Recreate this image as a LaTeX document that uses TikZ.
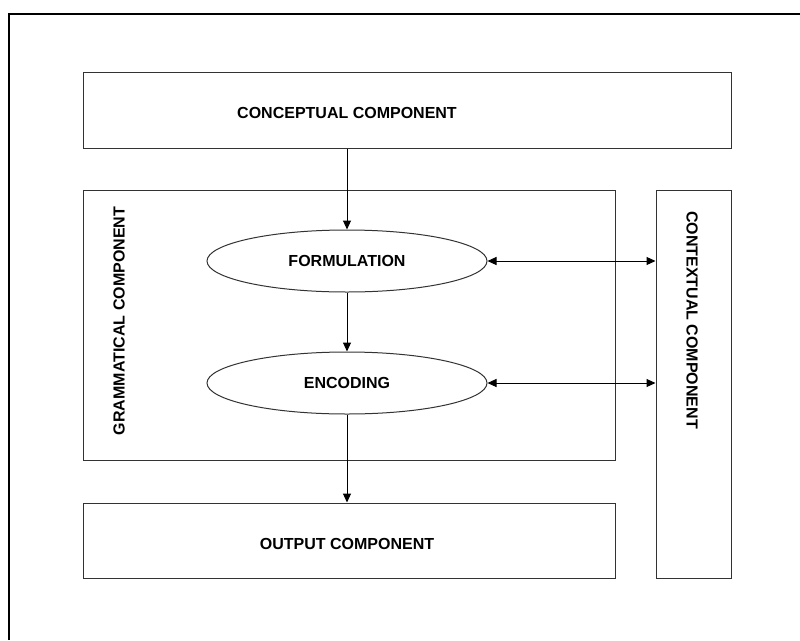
\documentclass[tikz,border=0pt]{standalone}
\usepackage{fontspec}
\setmainfont{Liberation Sans}
\usetikzlibrary{shapes.geometric,arrows.meta}

\tikzstyle{bS}=[draw=black!80,line width=1pt,inner sep=0pt]
\tikzstyle{tS}=[inner sep=0pt,font=\bfseries\fontsize{16}{19}\selectfont]
\tikzstyle{oS}=[ellipse,draw=black!80,line width=1pt,minimum width=280pt,minimum height=62pt,inner sep=0pt,font=\bfseries\fontsize{16}{19}\selectfont]
\tikzstyle{aS}=[line width=1pt,-{Triangle[length=9pt,width=8pt]}]
\tikzstyle{dS}=[line width=1pt,{Triangle[length=9pt,width=8pt]}-{Triangle[length=9pt,width=8pt]}]

\begin{document}
\begin{tikzpicture}[x=1pt,y=-1pt]
                \useasboundingbox (0,0) rectangle (800,640);
                \draw[line width=2.5pt] (9,640) -- (9,14) -- (800,14);
                % boxes
                \draw (407,110) node[bS,minimum width=648pt,minimum height=76pt] (cB) {};
                \draw (349,325) node[bS,minimum width=532pt,minimum height=270pt] (gB) {};
                \draw (693.5,384) node[bS,minimum width=75pt,minimum height=388pt] (xB) {};
                \draw (349,540.5) node[bS,minimum width=532pt,minimum height=75pt] (oB) {};
                % texts
                \draw (347,112.5) node[tS] (cT) {CONCEPTUAL COMPONENT};
                \draw (347,544) node[tS] (oT) {OUTPUT COMPONENT};
                \draw (119,321) node[tS,rotate=90] (gT) {GRAMMATICAL COMPONENT};
                \draw (692,320) node[tS,rotate=-90] (xT) {CONTEXTUAL COMPONENT};
                % ellipses
                \draw (347,261) node[oS] (fo) {FORMULATION};
                \draw (347,383) node[oS] (en) {ENCODING};
                \path
                    (cB.south -| fo.north) edge[aS] (fo.north)
                    (fo) edge[aS] (en)
                    (en.south) edge[aS] (en.south |- oB.north)
                    (fo.east) edge[dS] (fo.east -| xB.west)
                    (en.east) edge[dS] (en.east -| xB.west)
                ;
        \end{tikzpicture}
\end{document}
